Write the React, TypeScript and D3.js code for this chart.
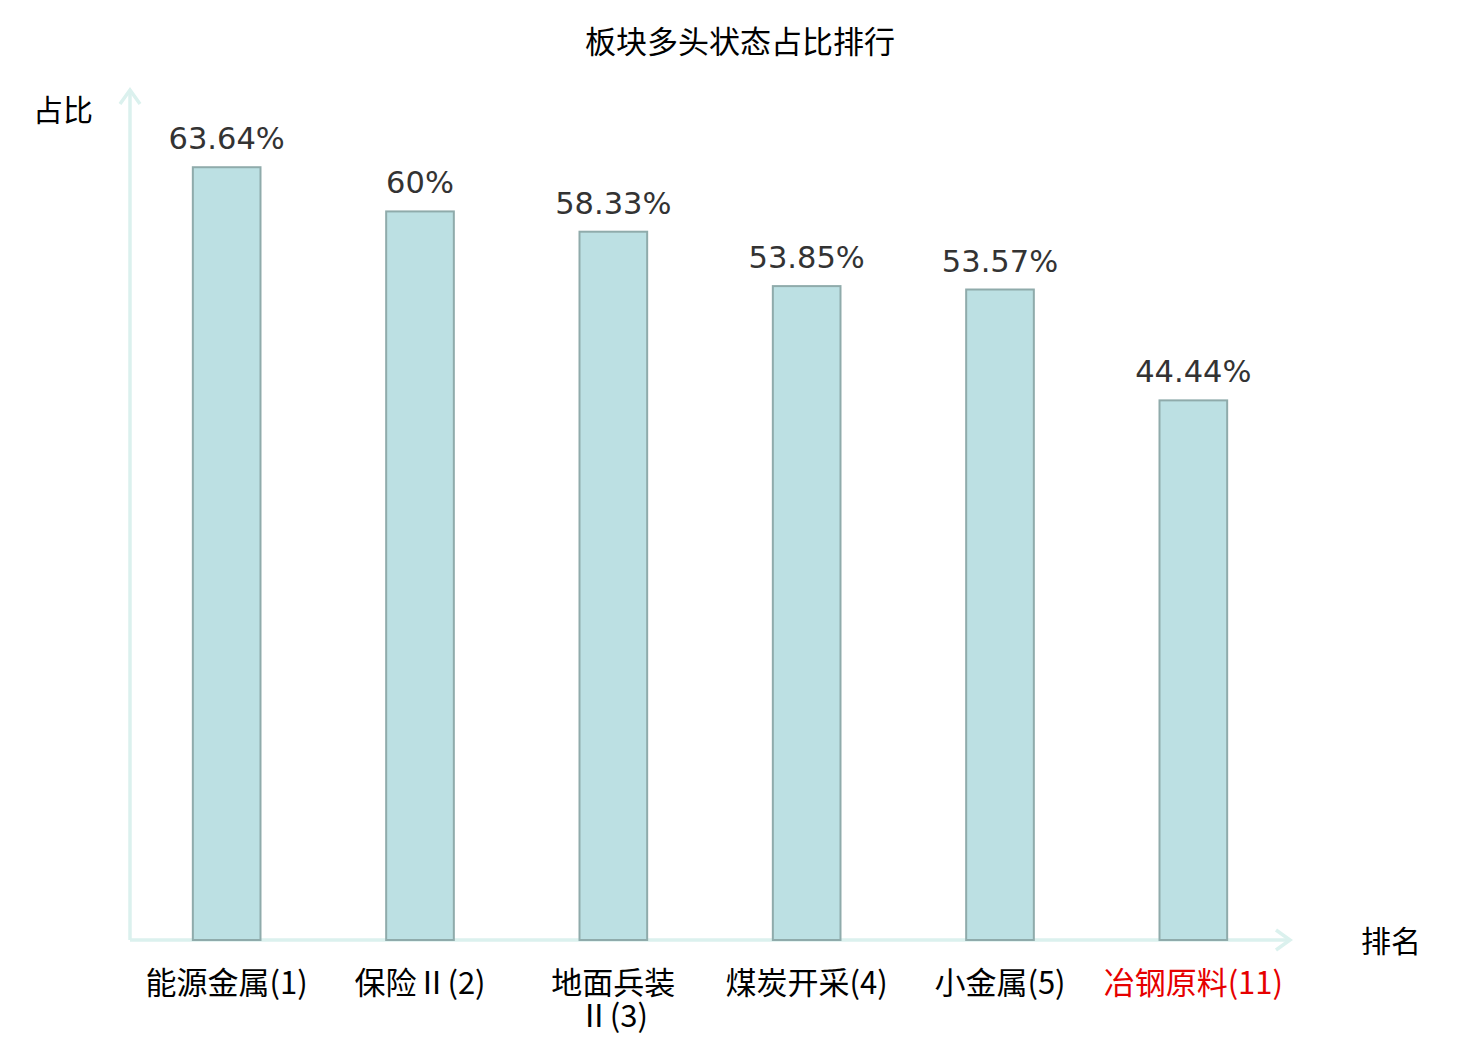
import React, { useEffect, useRef } from "react";
import * as d3 from "d3";

const categories = ["能源金属(1)", "保险Ⅱ(2)", "地面兵装\nⅡ(3)", "煤炭开采(4)", "小金属(5)", "冶钢原料(11)"];
const ratios = [63.64, 60, 58.33, 53.85, 53.57, 44.44];
const valueLabels = ["63.64%", "60%", "58.33%", "53.85%", "53.57%", "44.44%"];
const highlighted = ["冶钢原料(11)"];

const CJK = "'Noto Sans CJK SC', 'Noto Sans', sans-serif";

const App = () => {
  const ref = useRef<SVGSVGElement>(null);

  useEffect(() => {
    const width = 1480;
    const height = 1040;
    const left = 130;
    const right = 1290;
    const top = 90;
    const bottom = 940;
    const axisColor = "#dbf1ee";

    const svg = d3.select(ref.current);
    svg.selectAll("*").remove();
    svg.attr("width", width).attr("height", height);

    const x = d3
      .scaleBand()
      .domain(categories)
      .range([left, right])
      .paddingInner(0.65)
      .paddingOuter(0.325);

    const y = d3.scaleLinear().domain([0, 70]).range([bottom, top]);

    // title
    svg
      .append("text")
      .attr("x", 740)
      .attr("y", 53)
      .attr("text-anchor", "middle")
      .style("font-family", CJK)
      .style("font-size", "31px")
      .style("fill", "#000")
      .text("板块多头状态占比排行");

    // axes with arrows
    const axes = svg.append("g").style("stroke", axisColor).style("stroke-width", 3.5).style("fill", "none");
    axes.append("line").attr("x1", left).attr("y1", bottom).attr("x2", left).attr("y2", top);
    axes.append("line").attr("x1", left).attr("y1", bottom).attr("x2", right).attr("y2", bottom);
    axes
      .append("path")
      .attr("d", `M${left - 10},${top + 14}L${left},${top}L${left + 10},${top + 14}`);
    axes
      .append("path")
      .attr("d", `M${right - 14},${bottom - 10}L${right},${bottom}L${right - 14},${bottom + 10}`);

    // axis names
    svg
      .append("text")
      .attr("x", 63)
      .attr("y", 121)
      .attr("text-anchor", "middle")
      .style("font-family", CJK)
      .style("font-size", "30px")
      .text("占比");
    svg
      .append("text")
      .attr("x", 1391)
      .attr("y", 952)
      .attr("text-anchor", "middle")
      .style("font-family", CJK)
      .style("font-size", "30px")
      .text("排名");

    // bars
    svg
      .append("g")
      .selectAll("rect")
      .data(categories)
      .join("rect")
      .attr("x", (d) => x(d)!)
      .attr("y", (d, i) => y(ratios[i]))
      .attr("width", x.bandwidth())
      .attr("height", (d, i) => bottom - y(ratios[i]))
      .style("fill", "#bce0e3")
      .style("stroke", "#8fabab")
      .style("stroke-width", 2);

    // value labels
    svg
      .append("g")
      .selectAll("text")
      .data(categories)
      .join("text")
      .attr("x", (d) => x(d)! + x.bandwidth() / 2)
      .attr("y", (d, i) => y(ratios[i]) - 18)
      .attr("text-anchor", "middle")
      .style("font-family", "'DejaVu Sans', sans-serif")
      .style("font-size", "30.5px")
      .style("fill", "#333")
      .text((d, i) => valueLabels[i]);

    // category labels
    const labels = svg
      .append("g")
      .selectAll("text")
      .data(categories)
      .join("text")
      .attr("text-anchor", "middle")
      .style("font-family", CJK)
      .style("font-size", "31px")
      .style("fill", (d) => (highlighted.includes(d) ? "#e60000" : "#000"));
    labels.each(function (d) {
      const cx = x(d)! + x.bandwidth() / 2;
      d.split("\n").forEach((line, li) => {
        d3.select(this)
          .append("tspan")
          .attr("x", cx)
          .attr("y", 994 + li * 33)
          .text(line);
      });
    });
  }, []);

  return (
    <svg
      ref={ref}
      style={{ position: "absolute", left: 0, top: 0, background: "#fff" }}
    />
  );
};

export default App;
